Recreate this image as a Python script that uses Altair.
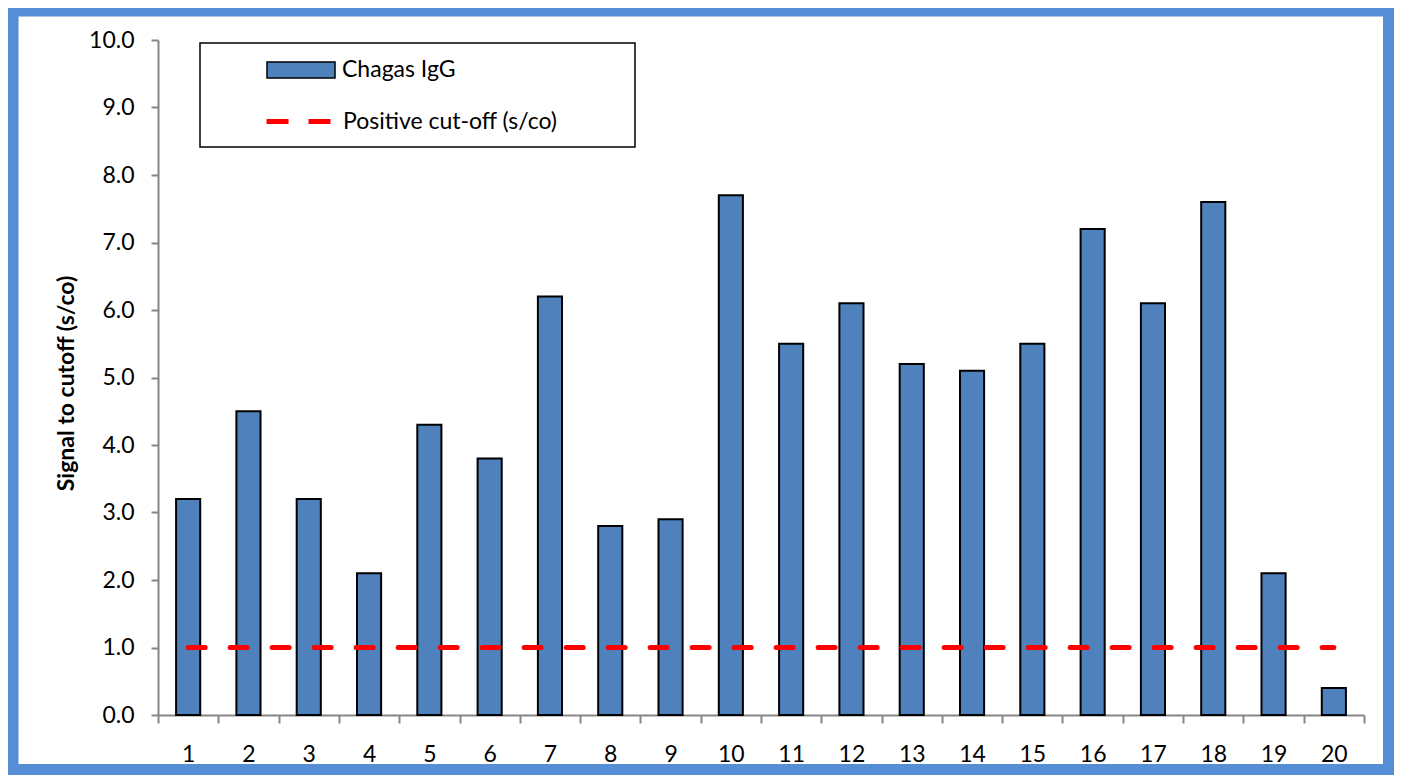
import altair as alt
import pandas as pd

samples = [str(i) for i in range(1, 21)]
igg = [3.2, 4.5, 3.2, 2.1, 4.3, 3.8, 6.2, 2.8, 2.9, 7.7,
       5.5, 6.1, 5.2, 5.1, 5.5, 7.2, 6.1, 7.6, 2.1, 0.4]
cutoff = [1.0] * 20
y_ticks = [0, 1, 2, 3, 4, 5, 6, 7, 8, 9, 10]
bar_label = "Chagas IgG"
line_label = "Positive cut-off (s/co)"
y_title = "Signal to cutoff (s/co)"

df = pd.DataFrame({
    "sample": samples,
    "igg": igg,
    "cutoff": cutoff,
    "bar_series": [bar_label] * len(samples),
    "line_series": [line_label] * len(samples),
})
one = pd.DataFrame({"k": [0]})

FONT = "Lato"
GRAY = "#868686"

x_enc = alt.X(
    "sample:N", sort=samples,
    scale=alt.Scale(paddingInner=0, paddingOuter=0),
    axis=alt.Axis(title=None, labelAngle=0, tickBand="extent", tickSize=8,
                  labelPadding=20, labelFont=FONT, labelFontSize=23,
                  labelColor="black", domainColor=GRAY, tickColor=GRAY,
                  domainWidth=2, tickWidth=2, grid=False),
)
y_axis = alt.Axis(title=y_title, values=y_ticks, format=".1f", tickSize=7,
                  labelPadding=17, labelFont=FONT, labelFontSize=23,
                  labelColor="black", domainColor=GRAY, tickColor=GRAY,
                  domainWidth=2, tickWidth=2, grid=False,
                  titleFont=FONT, titleFontSize=23, titleFontWeight="bold",
                  titleColor="black", titlePadding=10, titleY=343)
y_scale = alt.Scale(domain=[0, 10], nice=False)

frame = alt.Chart(one).mark_rect(filled=False, stroke="#558ED5", strokeWidth=11).encode(
    x=alt.value(-145), x2=alt.value(1230.5), y=alt.value(-29), y2=alt.value(729.5)
)
box = alt.Chart(one).mark_rect(filled=False, stroke="black", strokeWidth=1.5).encode(
    x=alt.value(42), x2=alt.value(477), y=alt.value(3), y2=alt.value(107)
)

bars = alt.Chart(df).mark_bar(width=alt.RelativeBandSize(0.4), stroke="black", strokeWidth=2).encode(
    x=x_enc,
    y=alt.Y("igg:Q", scale=y_scale, axis=y_axis),
    fill=alt.Fill("bar_series:N", scale=alt.Scale(range=["#4F81BD"]),
                  legend=alt.Legend(title=None, orient="none", legendX=108, legendY=-5,
                                    symbolType="M-1,-0.235H1V0.235H-1Z", symbolSize=4624,
                                    symbolStrokeColor="black", symbolStrokeWidth=1.5,
                                    labelOffset=6, labelFont=FONT, labelFontSize=23,
                                    labelColor="black", labelLimit=0, padding=0)),
)

line = alt.Chart(df).mark_line(strokeWidth=5, strokeDash=[17, 25], strokeCap="round").encode(
    x=x_enc,
    y=alt.Y("cutoff:Q", scale=y_scale, axis=y_axis),
    stroke=alt.Stroke("line_series:N", scale=alt.Scale(range=["#FF0000"]),
                      legend=alt.Legend(title=None, orient="none", legendX=106, legendY=47,
                                        symbolType="stroke", symbolSize=4096,
                                        symbolStrokeWidth=5, symbolDash=[22, 20],
                                        labelOffset=10, labelFont=FONT, labelFontSize=23,
                                        labelColor="black", labelLimit=0, padding=0)),
)

chart = alt.layer(frame, box, bars, line).properties(
    width=1206, height=675,
    autosize=alt.AutoSizeParams(type="none"),
    padding={"left": 150, "top": 32, "right": 30, "bottom": 60},
    background="white",
).configure_view(stroke=None)

chart.save("out.html", embed_options={"renderer": "svg", "actions": False})
